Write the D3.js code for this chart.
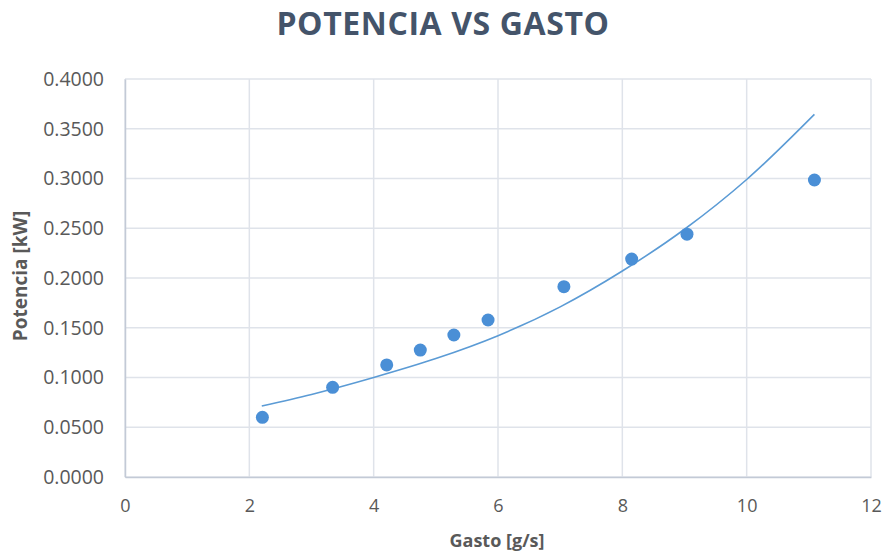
<!DOCTYPE html>
<html>
<head>
<meta charset="utf-8">
<script src="https://cdn.jsdelivr.net/npm/d3@7"></script>
<style>
  body { margin: 0; background: #fff; }
  svg { display: block; font-family: "Open Sans", sans-serif; }
</style>
</head>
<body>
<div id="chart"></div>
<script>
var width = 883
var height = 552

// measured points
var gasto = [2.21, 3.34, 4.21, 4.75, 5.29, 5.84, 7.06, 8.15, 9.04, 11.09]
var potencia = [0.0600, 0.0901, 0.1126, 0.1276, 0.1427, 0.1578, 0.1913, 0.2190, 0.2440, 0.2985]

// trendline
var trendX = [2.2, 3, 4, 5, 6, 7, 8, 9, 10, 11.09]
var trendY = [0.0714, 0.0830, 0.1000, 0.1190, 0.1420, 0.1710, 0.2070, 0.2490, 0.2990, 0.3645]

var xTicks = [0, 2, 4, 6, 8, 10, 12]
var yTicks = [0, 0.05, 0.1, 0.15, 0.2, 0.25, 0.3, 0.35, 0.4]

var margin = {top: 79, right: 12, bottom: 75, left: 125}
var w = width - margin.left - margin.right
var h = height - margin.top - margin.bottom

var svg = d3.select("#chart").append("svg")
    .attr("width", width)
    .attr("height", height)

var g = svg.append("g")
    .attr("transform", "translate(" + margin.left + "," + margin.top + ")")

var x = d3.scaleLinear().domain([0, 12]).range([0, w])
var y = d3.scaleLinear().domain([0, 0.4]).range([h, 0])

// gridlines
g.append("g")
    .selectAll("line")
    .data(yTicks)
    .enter().append("line")
    .attr("x1", 0).attr("x2", w)
    .attr("y1", function(d) { return y(d) })
    .attr("y2", function(d) { return y(d) })
    .attr("stroke", "#dfe3ea")
    .attr("stroke-width", 1.5)

g.append("g")
    .selectAll("line")
    .data(xTicks)
    .enter().append("line")
    .attr("y1", 0).attr("y2", h)
    .attr("x1", function(d) { return x(d) })
    .attr("x2", function(d) { return x(d) })
    .attr("stroke", "#dfe3ea")
    .attr("stroke-width", 1.5)

// axes
var xAxis = d3.axisBottom(x).tickValues(xTicks).tickSize(0).tickPadding(22)
var yAxis = d3.axisLeft(y).tickValues(yTicks).tickSize(0).tickPadding(21)
    .tickFormat(d3.format(".4f"))

var xa = g.append("g").attr("transform", "translate(0," + h + ")").call(xAxis)
var ya = g.append("g").call(yAxis)

xa.select(".domain").attr("stroke", "#c3cad6").attr("stroke-width", 1.5)
ya.select(".domain").attr("stroke", "#c3cad6").attr("stroke-width", 1.5)
xa.selectAll("text").attr("font-size", "18px").attr("fill", "#595959")
    .attr("font-family", "'Open Sans', sans-serif")
ya.selectAll("text").attr("font-size", "19.5px").attr("fill", "#595959")
    .attr("font-family", "'Open Sans', sans-serif")

// trendline
var line = d3.line()
    .x(function(d) { return x(d[0]) })
    .y(function(d) { return y(d[1]) })
    .curve(d3.curveMonotoneX)

g.append("path")
    .datum(d3.zip(trendX, trendY))
    .attr("d", line)
    .attr("fill", "none")
    .attr("stroke", "#5b9bd5")
    .attr("stroke-width", 1.6)

// points
g.selectAll(".dot")
    .data(d3.zip(gasto, potencia))
    .enter().append("circle")
    .attr("class", "dot")
    .attr("cx", function(d) { return x(d[0]) })
    .attr("cy", function(d) { return y(d[1]) })
    .attr("r", 6.5)
    .attr("fill", "#4a8fd6")

// titles
svg.append("text")
    .attr("x", 443).attr("y", 35)
    .attr("text-anchor", "middle")
    .attr("font-size", "32px")
    .attr("font-weight", "bold")
    .attr("letter-spacing", "0.6px")
    .attr("fill", "#44546a")
    .text("POTENCIA VS GASTO")

svg.append("text")
    .attr("x", 497).attr("y", 547)
    .attr("text-anchor", "middle")
    .attr("font-size", "18px")
    .attr("font-weight", "bold")
    .attr("fill", "#595959")
    .text("Gasto [g/s]")

svg.append("text")
    .attr("transform", "translate(27," + (margin.top + h / 2 - 2) + ") rotate(-90)")
    .attr("text-anchor", "middle")
    .attr("font-size", "19px")
    .attr("font-weight", "bold")
    .attr("fill", "#595959")
    .text("Potencia [kW]")
</script>
</body>
</html>
